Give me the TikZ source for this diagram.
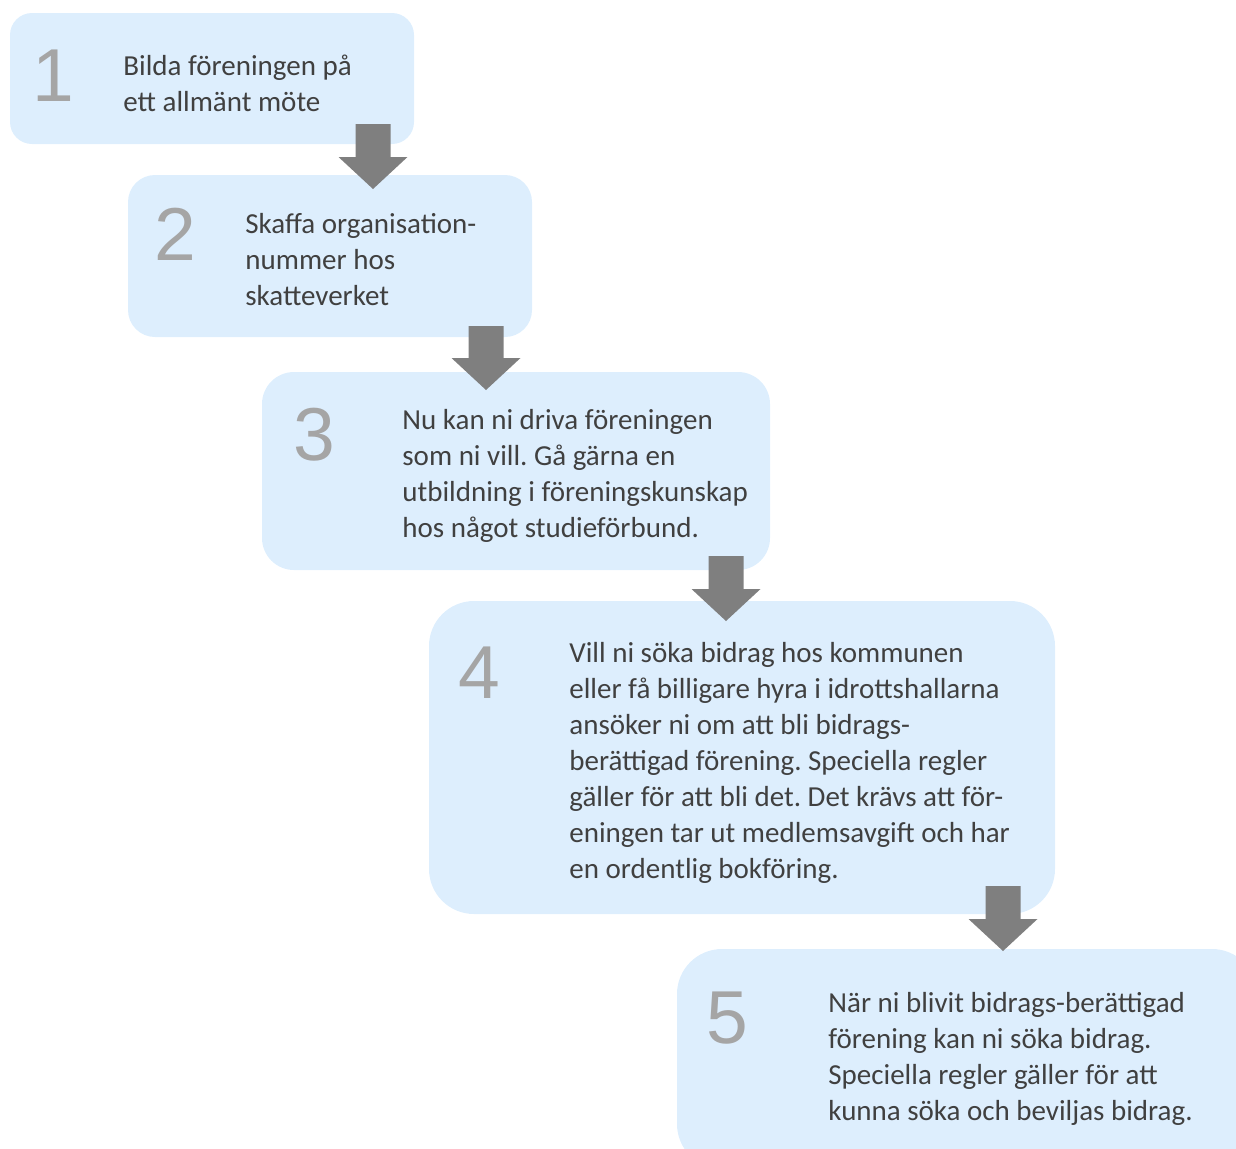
\documentclass[tikz,border=0pt]{standalone}
\usepackage{fontspec}
\setmainfont{Carlito}
\newfontfamily\numfont{Liberation Sans}
\usetikzlibrary{calc}
\frenchspacing

\definecolor{boxblue}{RGB}{221,238,253}
\definecolor{textgray}{RGB}{64,64,64}
\definecolor{numgray}{RGB}{165,165,165}
\definecolor{arrowgray}{RGB}{127,127,127}

% block arrow from #1 (tail) down to #2 (tip)
\newcommand{\stepArrow}[2]{%
  \fill[arrowgray] ($(#1)+(-17.5,0)$) -- ($(#1)+(17.5,0)$) -- ($(#2)+(17.5,-32)$)
    -- ($(#2)+(34.5,-32)$) -- (#2) -- ($(#2)+(-34.5,-32)$) -- ($(#2)+(-17.5,-32)$) -- cycle;}

\begin{document}
\begin{tikzpicture}[x=0.5pt, y=-0.5pt,
    stepbox/.style={fill=boxblue, inner sep=0pt, outer sep=0pt, anchor=north west},
    steptext/.style={text=textgray, font=\fontsize{14.5}{18}\selectfont, align=left, inner sep=0pt, anchor=base west},
    stepnum/.style={text=numgray, font=\numfont\fontsize{37.5}{40}\selectfont, inner sep=0pt, anchor=base}]
        \useasboundingbox (0,0) rectangle (1236,1148);
        % ==== BOXES ====
        \node[stepbox, rounded corners=11pt, minimum width=202pt, minimum height=65.5pt] (b1) at (10,13) {};
        \node[stepbox, rounded corners=13.5pt, minimum width=202pt, minimum height=81pt] (b2) at (128,175) {};
        \node[stepbox, rounded corners=16pt, minimum width=254pt, minimum height=99pt] (b3) at (262,372) {};
        \node[stepbox, rounded corners=22.5pt, minimum width=313pt, minimum height=156.5pt] (b4) at (429,601) {};
        \node[stepbox, rounded corners=22.5pt, minimum width=290pt, minimum height=110pt] (b5) at (677,949) {};

        % ==== ARROWS ====
        \coordinate (a1) at ($(b1.south east)+(-41,-20)$);
        \coordinate (h1) at ($(a1 |- b2.north)+(0,14)$);
        \coordinate (a2) at ($(b2.south east)+(-46,-11)$);
        \coordinate (h2) at ($(a2 |- b3.north)+(0,18)$);
        \coordinate (a3) at ($(b3.south east)+(-44,-14)$);
        \coordinate (h3) at ($(a3 |- b4.north)+(0,20)$);
        \coordinate (a4) at ($(b4.south east)+(-52,-28)$);
        \coordinate (h4) at ($(a4 |- b5.north)+(0,2)$);
        \stepArrow{a1}{h1}
        \stepArrow{a2}{h2}
        \stepArrow{a3}{h3}
        \stepArrow{a4}{h4}

        % ==== NUMBERS ====
        \node[stepnum] (n1) at (53,101) {1};
        \node[stepnum] (n2) at (175,260) {2};
        \node[stepnum] (n3) at (314,460) {3};
        \node[stepnum] (n4) at (479,698) {4};
        \node[stepnum] (n5) at (727,1043) {5};

        % ==== TEXTS (anchored at the last line) ====
        \node[steptext] (t1) at (123,111) {Bilda föreningen på\\ett allmänt möte};
        \node[steptext] (t2) at (245,305) {Skaffa organisation-\\nummer hos\\skatteverket};
        \node[steptext] (t3) at (402,537) {Nu kan ni driva föreningen\\som ni vill. Gå gärna en\\utbildning i föreningskunskap\\hos något studieförbund.};
        \node[steptext] (t4) at (569,878) {Vill ni söka bidrag hos kommunen\\eller få billigare hyra i idrottshallarna\\ansöker ni om att bli bidrags-\\berättigad förening. Speciella regler\\gäller för att bli det. Det krävs att för-\\eningen tar ut medlemsavgift och har\\en ordentlig bokföring.};
        \node[steptext] (t5) at (828,1120) {När ni blivit bidrags-berättigad\\förening kan ni söka bidrag.\\Speciella regler gäller för att\\kunna söka och beviljas bidrag.};
\end{tikzpicture}
\end{document}
